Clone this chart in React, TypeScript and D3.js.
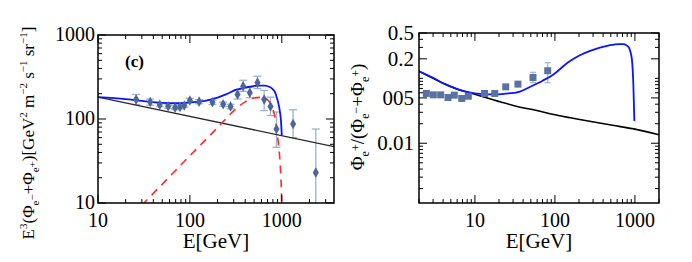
import * as d3 from 'd3';

// panel (c): E^3 total flux
const fluxE = [26, 37, 47, 58, 69, 78, 87, 100, 126, 176, 230, 277, 330, 380, 449, 544, 643, 754, 875, 1327, 2345];
const fluxV = [171, 159, 148, 142, 136, 139, 145, 166, 161, 158, 150, 141, 196, 245, 205, 271, 171, 141, 76, 87, 23];
const fluxLo = [149, 146, 140, 134, 129, 132, 138, 157, 152, 149, 141, 132, 173, 213, 179, 230, 126, 110, 46, 60, 5];
const fluxHi = [196, 173, 156, 150, 144, 147, 153, 176, 170, 167, 159, 150, 224, 289, 240, 323, 219, 182, 121, 129, 76];

const bgLeftE = [10, 3700];
const bgLeftV = [182, 46.9];

const totLeftE = [10, 20, 30, 50, 70, 100, 150, 200, 250, 320, 380, 450, 550, 650, 740, 800, 850, 880, 910, 950, 980, 1000];
const totLeftV = [182, 172, 164, 156, 154, 158, 166, 180, 198, 224, 234, 242, 250, 250, 240, 225, 205, 182, 160, 126, 95, 64];

const srcE = [30, 100, 200, 300, 400, 500, 600, 700, 780, 850, 900, 940, 970, 990, 1000];
const srcV = [9.4, 36.5, 79, 125, 160, 178, 181, 170, 140, 100, 62, 40, 24, 14, 9];

// positron fraction
const fracE = [2.47, 3.02, 3.73, 4.61, 5.52, 6.84, 8.27, 13.2, 17.7, 24.3, 34.5, 53.2, 81.3];
const fracV = [0.0585, 0.0557, 0.0557, 0.0507, 0.0551, 0.049, 0.053, 0.0585, 0.0585, 0.074, 0.0815, 0.103, 0.131];
const fracLo = [0.057, 0.0545, 0.0545, 0.0495, 0.054, 0.048, 0.052, 0.057, 0.057, 0.071, 0.077, 0.086, 0.0856];
const fracHi = [0.06, 0.057, 0.057, 0.052, 0.0562, 0.050, 0.054, 0.06, 0.06, 0.077, 0.087, 0.124, 0.174];

const totRightE = [2, 3, 4.1, 6.3, 8.4, 11, 14, 18, 24, 35.6, 50, 70, 93, 150, 202, 300, 435, 550, 638, 720, 772, 820, 851, 880, 919, 955, 984];
const totRightV = [0.129, 0.102, 0.083, 0.067, 0.0606, 0.058, 0.0565, 0.0565, 0.058, 0.062, 0.075, 0.092, 0.112, 0.18, 0.225, 0.275, 0.315, 0.332, 0.338, 0.336, 0.326, 0.31, 0.29, 0.255, 0.191, 0.0834, 0.022];

const bgRightE = [2, 4.1, 6.3, 8.4, 13.6, 21.9, 35.6, 57.4, 93, 150, 204, 527, 1000, 2000];
const bgRightV = [0.129, 0.083, 0.067, 0.0606, 0.0508, 0.0426, 0.0363, 0.0323, 0.028, 0.0249, 0.0232, 0.0189, 0.0165, 0.0135];

const leftXTicks = [10, 100, 1000];
const leftYTicks = [10, 100, 1000];
const rightXTicks = [10, 100, 1000];
const rightYTicks = [0.5, 0.2, 0.05, 0.01];
const rightYLabels = ['0.5', '0.2', '005', '0.01'];

const FONT = '"Liberation Serif", "Times New Roman", serif';
const BLUE = '#0a14ff';
const RED = '#ff2a2a';
const MARK = '#4c6797';
const ERR = '#9fb1cf';

type Box = { x0: number; x1: number; y0: number; y1: number };

function zip(xs: number[], ys: number[]): [number, number][] {
  return xs.map((x, i) => [x, ys[i]]);
}

function Frame({ box, x, y, majX, majY }: {
  box: Box;
  x: d3.ScaleLogarithmic<number, number>;
  y: d3.ScaleLogarithmic<number, number>;
  majX: number[];
  majY: number[];
}) {
  const isMaj = (list: number[], v: number) => list.some((m) => Math.abs(m - v) / m < 1e-6);
  return (
    <g>
      {x.ticks().map((t, i) => {
        const len = isMaj(majX, t) ? 8 : 4;
        const px = x(t);
        return (
          <g key={'x' + i} stroke="#000" strokeWidth={1}>
            <line x1={px} x2={px} y1={box.y1} y2={box.y1 - len} />
            <line x1={px} x2={px} y1={box.y0} y2={box.y0 + len} />
          </g>
        );
      })}
      {y.ticks().map((t, i) => {
        const len = isMaj(majY, t) ? 8 : 4;
        const py = y(t);
        return (
          <g key={'y' + i} stroke="#000" strokeWidth={1}>
            <line x1={box.x0} x2={box.x0 + len} y1={py} y2={py} />
            <line x1={box.x1} x2={box.x1 - len} y1={py} y2={py} />
          </g>
        );
      })}
      <rect x={box.x0} y={box.y0} width={box.x1 - box.x0} height={box.y1 - box.y0}
        fill="none" stroke="#000" strokeWidth={1.5} />
    </g>
  );
}

export default function App() {
  const L: Box = { x0: 98, x1: 334, y0: 35, y1: 203 };
  const R: Box = { x0: 419, x1: 659, y0: 33, y1: 203 };

  const xL = d3.scaleLog().domain([10, 3700]).range([L.x0, L.x1]);
  const yL = d3.scaleLog().domain([10, 1000]).range([L.y1, L.y0]);
  const xR = d3.scaleLog().domain([2, 2000]).range([R.x0, R.x1]);
  const yR = d3.scaleLog().domain([0.0012, 0.5]).range([R.y1, R.y0]);

  const lineL = d3.line<[number, number]>().x((d) => xL(d[0])).y((d) => yL(d[1])).curve(d3.curveMonotoneX);
  const lineR = d3.line<[number, number]>().x((d) => xR(d[0])).y((d) => yR(d[1])).curve(d3.curveMonotoneX);
  const diamond = d3.symbol().type(d3.symbolDiamond).size(32)() as string;

  return (
    <svg width={692} height={262} style={{ position: 'absolute', left: 0, top: 0, background: '#fff' }}
      fontFamily={FONT}>
      <defs>
        <clipPath id="clipL"><rect x={L.x0} y={L.y0} width={L.x1 - L.x0} height={L.y1 - L.y0} /></clipPath>
        <clipPath id="clipR"><rect x={R.x0} y={R.y0} width={R.x1 - R.x0} height={R.y1 - R.y0} /></clipPath>
      </defs>

      {/* left panel */}
      <g clipPath="url(#clipL)">
        {fluxE.map((e, i) => {
          const px = xL(e);
          return (
            <g key={i} stroke={ERR} strokeWidth={1.3}>
              <line x1={px} x2={px} y1={yL(fluxLo[i])} y2={yL(fluxHi[i])} />
              <line x1={px - 4} x2={px + 4} y1={yL(fluxLo[i])} y2={yL(fluxLo[i])} />
              <line x1={px - 4} x2={px + 4} y1={yL(fluxHi[i])} y2={yL(fluxHi[i])} />
            </g>
          );
        })}
        <path d={lineL(zip(bgLeftE, bgLeftV)) ?? ''} fill="none" stroke="#2a2a2a" strokeWidth={1.4} />
        <path d={lineL(zip(srcE, srcV)) ?? ''} fill="none" stroke={RED} strokeWidth={1.6} strokeDasharray="8 6" />
        <path d={lineL(zip(totLeftE, totLeftV)) ?? ''} fill="none" stroke={BLUE} strokeWidth={1.8} />
        {fluxE.map((e, i) => (
          <path key={i} d={diamond} transform={`translate(${xL(e)},${yL(fluxV[i])})`} fill={MARK} />
        ))}
      </g>
      <Frame box={L} x={xL} y={yL} majX={leftXTicks} majY={leftYTicks} />
      {leftXTicks.map((t) => (
        <text key={t} x={xL(t)} y={227} fontSize={20} textAnchor="middle">{t}</text>
      ))}
      {leftYTicks.map((t) => (
        <text key={t} x={95} y={yL(t) + 6} fontSize={20} textAnchor="end">{t}</text>
      ))}
      <text x={125} y={67} fontSize={17} fontWeight="bold">(c)</text>
      <text x={216} y={248} fontSize={21} textAnchor="middle">E[GeV]</text>
      <text transform="translate(34,133) rotate(-90)" fontSize={17} textAnchor="middle">
        E<tspan fontSize={11} dy={-7}>3</tspan>
        <tspan dy={7}>(Φ</tspan><tspan fontSize={11} dy={5}>e</tspan><tspan fontSize={11} dy={-3}>−</tspan>
        <tspan dy={-2}>+Φ</tspan><tspan fontSize={11} dy={5}>e</tspan><tspan fontSize={11} dy={-3}>+</tspan>
        <tspan dy={-2}>)[GeV</tspan><tspan fontSize={11} dy={-7}>2</tspan>
        <tspan dy={7}> m</tspan><tspan fontSize={11} dy={-7}>−2</tspan>
        <tspan dy={7}> s</tspan><tspan fontSize={11} dy={-7}>−1</tspan>
        <tspan dy={7}> sr</tspan><tspan fontSize={11} dy={-7}>−1</tspan>
        <tspan dy={7}>]</tspan>
      </text>

      {/* right panel */}
      <g clipPath="url(#clipR)">
        {fracE.map((e, i) => {
          const px = xR(e);
          return (
            <g key={i} stroke={ERR} strokeWidth={1.2}>
              <line x1={px} x2={px} y1={yR(fracLo[i])} y2={yR(fracHi[i])} />
              <line x1={px - 3} x2={px + 3} y1={yR(fracLo[i])} y2={yR(fracLo[i])} />
              <line x1={px - 3} x2={px + 3} y1={yR(fracHi[i])} y2={yR(fracHi[i])} />
            </g>
          );
        })}
        <path d={lineR(zip(bgRightE, bgRightV)) ?? ''} fill="none" stroke="#000" strokeWidth={1.6} />
        <path d={lineR(zip(totRightE, totRightV)) ?? ''} fill="none" stroke={BLUE} strokeWidth={1.8} />
        {fracE.map((e, i) => (
          <rect key={i} x={xR(e) - 3.5} y={yR(fracV[i]) - 3.5} width={7} height={7} fill="#5a72a2" />
        ))}
      </g>
      <Frame box={R} x={xR} y={yR} majX={rightXTicks} majY={rightYTicks} />
      {rightXTicks.map((t) => (
        <text key={t} x={xR(t)} y={227} fontSize={20} textAnchor="middle">{t}</text>
      ))}
      {rightYTicks.map((t, i) => (
        <text key={t} x={414} y={yR(t) + 7} fontSize={21} textAnchor="end">{rightYLabels[i]}</text>
      ))}
      <text x={539} y={248} fontSize={21} textAnchor="middle">E[GeV]</text>
      <text transform="translate(364,117) rotate(-90)" fontSize={19} textAnchor="middle">
        Φ<tspan fontSize={12} dy={5}>e</tspan><tspan fontSize={12} dy={-9}>+</tspan>
        <tspan dy={4}>/(Φ</tspan><tspan fontSize={12} dy={5}>e</tspan><tspan fontSize={12} dy={-9}>−</tspan>
        <tspan dy={4}>+Φ</tspan><tspan fontSize={12} dy={5}>e</tspan><tspan fontSize={12} dy={-9}>+</tspan>
        <tspan dy={4}>)</tspan>
      </text>
    </svg>
  );
}
